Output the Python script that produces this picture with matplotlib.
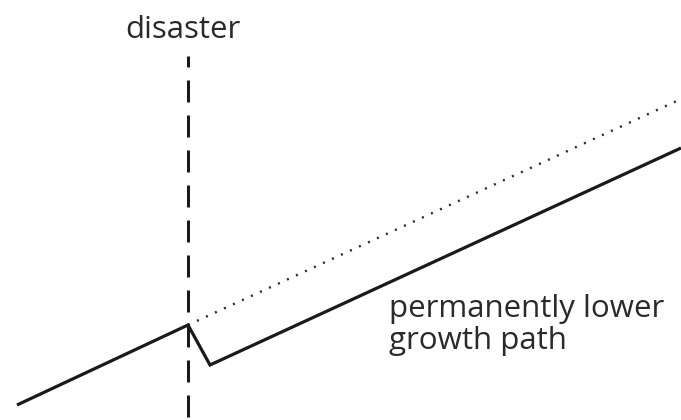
import matplotlib
matplotlib.use("Agg")
import matplotlib.pyplot as plt

plt.rcParams['lines.scale_dashes'] = False

# Conceptual data (time, output level)
actual_time = [17, 188, 210, 681]
actual_level = [15, 95, 55, 272]
trend_time = [188, 681]
trend_level = [95, 321]
disaster_time = 188
disaster_span = [0, 364]

label_disaster = "disaster"
label_path = ["permanently lower", "growth path"]

fig = plt.figure(figsize=(6.81, 4.20), dpi=100)
ax = fig.add_axes([0, 0, 1, 1])
ax.set_xlim(0, 681)
ax.set_ylim(0, 420)
ax.axis('off')

px = 0.72  # points per pixel at 100 dpi

ax.plot([disaster_time, disaster_time], [disaster_span[1], disaster_span[0]],
        color='#1a1a1a', lw=3 * px, linestyle=(11 * px, (22 * px, 13 * px)),
        solid_capstyle='butt', dash_capstyle='butt')
ax.plot(trend_time, trend_level, color='#2a2a2a', lw=2.4 * px,
        linestyle=(0, (2.0 * px, 7.9 * px)), dash_capstyle='butt')
ax.plot(actual_time, actual_level, color='#1a1a1a', lw=3.2 * px,
        solid_joinstyle='miter', solid_capstyle='butt')

ax.text(183, 420 - 38, label_disaster, ha='center', va='baseline',
        fontsize=22.5, family='Open Sans', color='#2a2a2a')
ax.text(389, 420 - 317, label_path[0], ha='left', va='baseline',
        fontsize=22.5, family='Open Sans', color='#2a2a2a')
ax.text(389, 420 - 349, label_path[1], ha='left', va='baseline',
        fontsize=22.5, family='Open Sans', color='#2a2a2a')

fig.savefig("out.png", dpi=100)
